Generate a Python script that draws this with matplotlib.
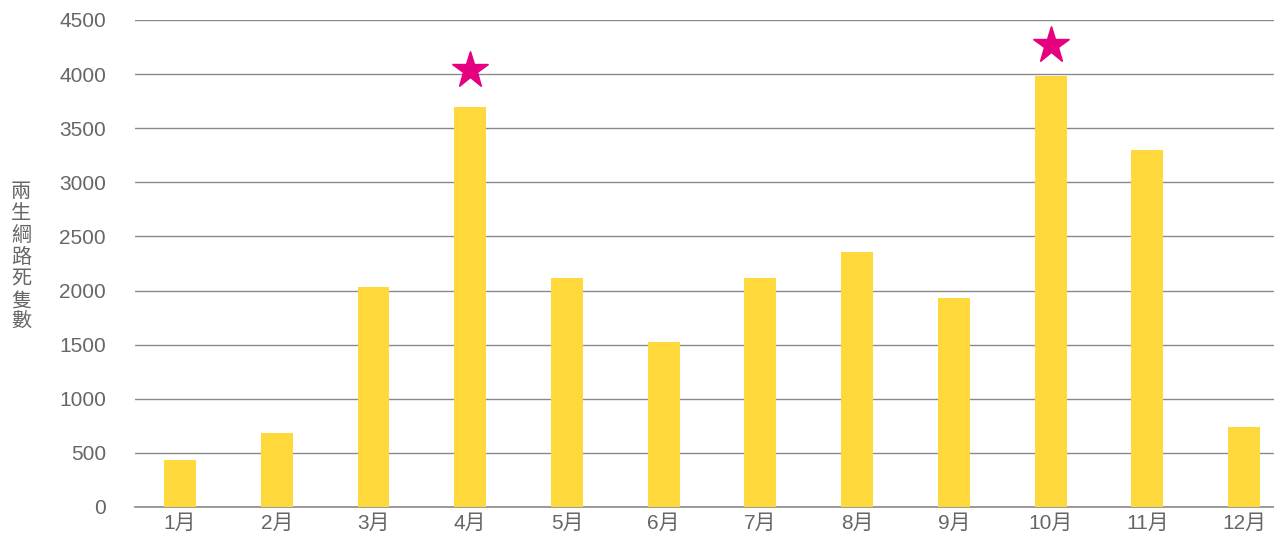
import matplotlib
matplotlib.use("Agg")
import matplotlib.pyplot as plt
import numpy as np

plt.rcParams['font.family'] = ['Liberation Sans', 'Noto Sans CJK TC', 'DejaVu Sans']

months = ["1月", "2月", "3月", "4月", "5月", "6月", "7月", "8月", "9月", "10月", "11月", "12月"]
deaths = [432, 682, 2032, 3700, 2118, 1525, 2118, 2357, 1932, 3985, 3300, 739]
star_months = [3, 9]          # index of highlighted months (4月, 10月)
star_heights = [4040, 4270]
y_ticks = [0, 500, 1000, 1500, 2000, 2500, 3000, 3500, 4000, 4500]
y_label = "兩生綱路死隻數"

BAR_COLOR = "#FFD83C"
STAR_COLOR = "#E4007F"
GRID_COLOR = "#8a8a8a"
TEXT_COLOR = "#666666"

fig = plt.figure(figsize=(12.74, 5.39), dpi=100)
ax = fig.add_axes([0.106, 0.0594, 0.894, 0.9035])

x = np.arange(len(months))
ax.bar(x, deaths, width=0.33, color=BAR_COLOR, zorder=2)
ax.plot(star_months, star_heights, ls="none", marker="*", ms=28,
        color=STAR_COLOR, zorder=3)

ax.set_xlim(-0.465, 11.31)
ax.set_ylim(0, 4500)
ax.set_yticks(y_ticks)
ax.set_xticks(x)
ax.set_xticklabels(months)
ax.yaxis.grid(True, color=GRID_COLOR, lw=1.0, zorder=1)
ax.axhline(0, color=GRID_COLOR, lw=1.2, clip_on=False, zorder=1)
ax.set_axisbelow(True)
for s in ax.spines.values():
    s.set_visible(False)
ax.tick_params(axis="both", length=0, labelsize=15, colors=TEXT_COLOR)
ax.tick_params(axis="y", pad=21)
ax.tick_params(axis="x", pad=5)
for lbl in ax.get_xticklabels() + ax.get_yticklabels():
    lbl.set_color(TEXT_COLOR)

fig.text(0.0165, 0.523, "\n".join(y_label), ha="center", va="center",
         fontsize=14.5, color=TEXT_COLOR, linespacing=1.05,
         family="Noto Sans CJK TC", fontweight="medium")

fig.savefig("out.png", dpi=100)
